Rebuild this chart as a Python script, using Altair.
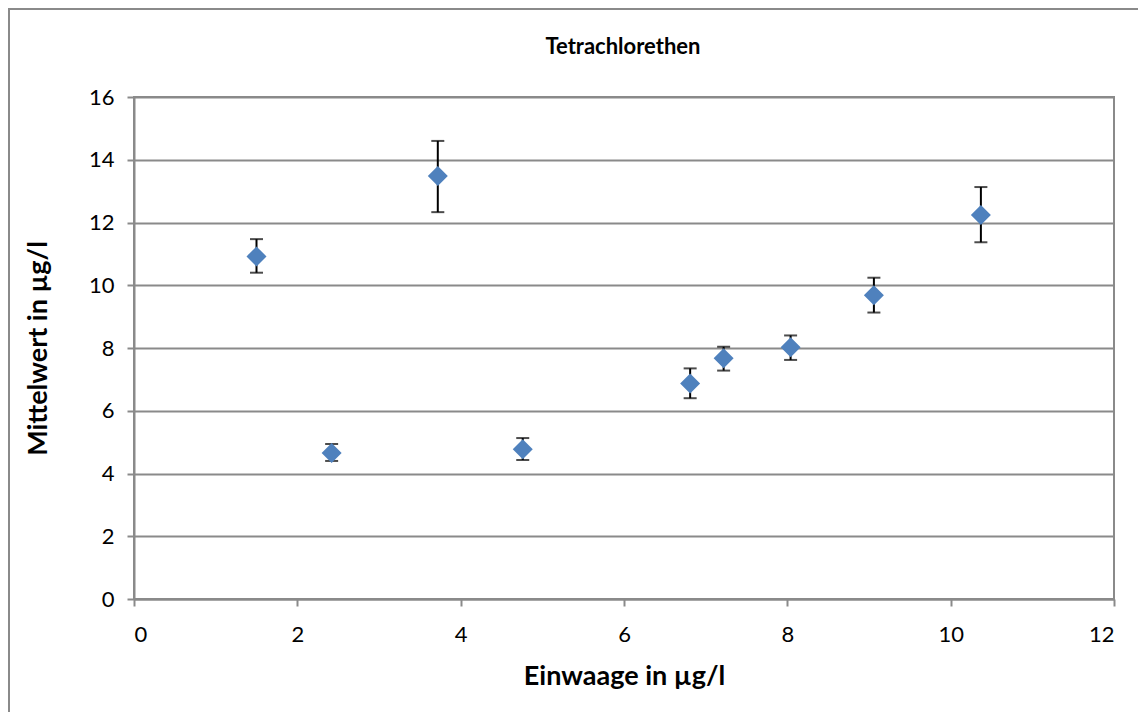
import altair as alt
import pandas as pd

# Data
einwaage = [1.50, 2.42, 3.72, 4.76, 6.81, 7.22, 8.04, 9.06, 10.37]
mittelwert = [10.92, 4.65, 13.48, 4.77, 6.87, 7.67, 8.02, 9.68, 12.24]
err_low = [10.40, 4.40, 12.33, 4.43, 6.40, 7.28, 7.62, 9.13, 11.37]
err_high = [11.47, 4.94, 14.60, 5.13, 7.35, 8.04, 8.40, 10.24, 13.13]
x_ticks = [0, 2, 4, 6, 8, 10, 12]
y_ticks = [0, 2, 4, 6, 8, 10, 12, 14, 16]
chart_title = ["Tetrachlorethen"]

df = pd.DataFrame({
    "einwaage": einwaage,
    "mittelwert": mittelwert,
    "lo": err_low,
    "hi": err_high,
})

W, H = 980, 502
GRAY = "#8a8a8a"
FONT = "Lato"

xscale = alt.Scale(domain=[0, 12], nice=False, zero=False)
yscale = alt.Scale(domain=[0, 16], nice=False, zero=False)

xaxis = alt.Axis(
    values=x_ticks, format="d", title="Einwaage in µg/l", grid=False,
    titleX=W / 2, titleY=77, titleAlign="center", titleBaseline="middle",
    labelPadding=18,
)
yaxis = alt.Axis(
    values=y_ticks, format="d", title="Mittelwert in µg/l", grid=True,
    titleX=-96, titleY=H / 2, titleAngle=-90, titleAlign="center",
    titleBaseline="middle", labelPadding=13,
)

base = alt.Chart(df)
one = alt.Chart(pd.DataFrame({"t": chart_title}))

frame_left = one.mark_rule(color=GRAY, strokeWidth=2).encode(
    x=alt.value(-125), y=alt.value(-89), y2=alt.value(640),
)
frame_top = one.mark_rule(color=GRAY, strokeWidth=2).encode(
    x=alt.value(-126), x2=alt.value(1020), y=alt.value(-88),
)
title = one.mark_text(
    font=FONT, fontSize=22, fontWeight="bold", color="black",
    align="center", baseline="middle",
).encode(x=alt.value(W / 2 - 1), y=alt.value(-50), text="t:N")

bars = base.mark_rule(color="black", strokeWidth=2).encode(
    x=alt.X("einwaage:Q", scale=xscale, axis=xaxis),
    y=alt.Y("lo:Q", scale=yscale, axis=yaxis),
    y2="hi:Q",
)
cap_lo = base.mark_tick(orient="horizontal", size=13, thickness=2, color="black").encode(
    x=alt.X("einwaage:Q", scale=xscale),
    y=alt.Y("lo:Q", scale=yscale),
)
cap_hi = base.mark_tick(orient="horizontal", size=13, thickness=2, color="black").encode(
    x=alt.X("einwaage:Q", scale=xscale),
    y=alt.Y("hi:Q", scale=yscale),
)
points = base.mark_point(shape="diamond", filled=True, size=400, color="#4F81BD", opacity=1).encode(
    x=alt.X("einwaage:Q", scale=xscale),
    y=alt.Y("mittelwert:Q", scale=yscale),
)

chart = alt.layer(bars, cap_lo, cap_hi, points, frame_left, frame_top, title).properties(
    width=W, height=H,
    autosize=alt.AutoSizeParams(type="none"),
    padding={"left": 126, "top": 89, "right": 24, "bottom": 113},
    background="white",
).configure_view(
    stroke=GRAY, strokeWidth=2,
).configure_axis(
    domainColor=GRAY, domainWidth=2,
    tickColor=GRAY, tickWidth=2, tickSize=7,
    gridColor=GRAY, gridWidth=2,
    labelFont=FONT, labelFontSize=22, labelColor="black",
    titleFont=FONT, titleFontSize=27, titleFontWeight="bold", titleColor="black",
)

chart.save("out.html", embed_options={"renderer": "svg", "actions": False})
